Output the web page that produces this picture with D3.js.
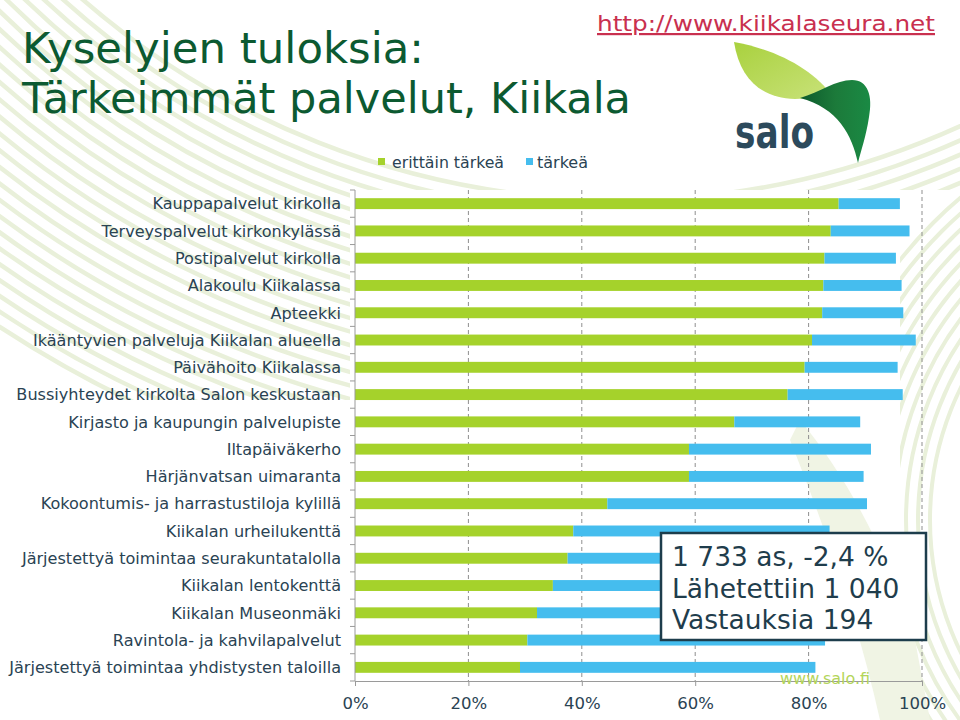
<!DOCTYPE html>
<html><head><meta charset="utf-8">
<script src="https://cdn.jsdelivr.net/npm/d3@7"></script>
<style>body{margin:0;background:#fff}svg{display:block}</style>
</head><body>
<svg id="c" width="960" height="720"></svg>
<script>
const categories = [
  "Kauppapalvelut kirkolla",
  "Terveyspalvelut kirkonkylässä",
  "Postipalvelut kirkolla",
  "Alakoulu Kiikalassa",
  "Apteekki",
  "Ikääntyvien palveluja Kiikalan alueella",
  "Päivähoito Kiikalassa",
  "Bussiyhteydet kirkolta Salon keskustaan",
  "Kirjasto ja kaupungin palvelupiste",
  "Iltapäiväkerho",
  "Härjänvatsan uimaranta",
  "Kokoontumis- ja harrastustiloja kylillä",
  "Kiikalan urheilukenttä",
  "Järjestettyä toimintaa seurakuntatalolla",
  "Kiikalan lentokenttä",
  "Kiikalan Museonmäki",
  "Ravintola- ja kahvilapalvelut",
  "Järjestettyä toimintaa yhdistysten taloilla"
];
// share of respondents, in %
const erittainTarkea = [85.3, 83.9, 82.8, 82.6, 82.4, 80.6, 79.3, 76.3, 66.9, 58.9, 58.9, 44.5, 38.5, 37.5, 34.9, 32.1, 30.4, 29.1];
const tarkea =         [10.8, 13.9, 12.6, 13.8, 14.3, 18.3, 16.4, 20.3, 22.2, 32.1, 30.8, 45.8, 45.2, 46.0, 47.6, 51.0, 52.5, 52.1];
const seriesNames = ["erittäin tärkeä", "tärkeä"];
const xTicks = [0, 20, 40, 60, 80, 100];
const infoLines = ["1 733 as, -2,4 %", "Lähetettiin 1 040", "Vastauksia 194"];

const svg = d3.select("#c");
const green = "#a5d22b", blue = "#45bdee";
const textCol = "#2a4353";
const defs = svg.append("defs");

// decorative background stripes
const deco = svg.append("g");
const clip = defs.append("clipPath").attr("id","cl");
clip.append("rect").attr("x",0).attr("y",0).attr("width",350).attr("height",400);
clip.append("rect").attr("x",0).attr("y",0).attr("width",960).attr("height",190);
const stripes = deco.append("g").attr("clip-path","url(#cl)");
for (let r = 820; r <= 1140; r += 13) {
  stripes.append("circle").attr("cx",620).attr("cy",-620).attr("r",r)
    .attr("fill","none").attr("stroke","#e9f0da").attr("stroke-width",4.5);
}
const clip2 = defs.append("clipPath").attr("id","cl2");
clip2.append("rect").attr("x",900).attr("y",190).attr("width",60).attr("height",530);
const rs = deco.append("g").attr("clip-path","url(#cl2)");
for (let r = 300; r <= 420; r += 12) {
  rs.append("circle").attr("cx",1230).attr("cy",520).attr("r",r)
    .attr("fill","none").attr("stroke","#e9f0da").attr("stroke-width",4);
}
deco.append("path")
  .attr("d","M800,420 C850,480 890,560 915,640 L930,720 L880,720 C860,630 830,540 790,440 Z")
  .attr("fill","#f0f4e4");

// scales
const x = d3.scaleLinear().domain([0, 100]).range([355, 922]);
const y = d3.scaleBand().domain(categories).range([190, 681]).paddingInner(0.6).paddingOuter(0.3);

// gridlines
svg.append("g").selectAll("line").data(xTicks.filter(d => d > 0)).join("line")
  .attr("x1", d => x(d)).attr("x2", d => x(d)).attr("y1", 190).attr("y2", 681)
  .attr("stroke", "#8f8f8f").attr("stroke-dasharray", "4,3").attr("stroke-width", 1);

// bars
const rows = categories.map((c, i) => ({c, a: erittainTarkea[i], b: tarkea[i]}));
svg.append("g").selectAll("rect").data(rows).join("rect")
  .attr("x", x(0)).attr("y", d => y(d.c)).attr("width", d => x(d.a) - x(0))
  .attr("height", y.bandwidth()).attr("fill", green);
svg.append("g").selectAll("rect").data(rows).join("rect")
  .attr("x", d => x(d.a)).attr("y", d => y(d.c)).attr("width", d => x(d.a + d.b) - x(d.a))
  .attr("height", y.bandwidth()).attr("fill", blue);

// y axis
const ya = svg.append("g");
ya.append("line").attr("x1", 355).attr("x2", 355).attr("y1", 190).attr("y2", 681).attr("stroke", "#9a9a9a");
const bounds = d3.range(categories.length + 1).map(i => 190 + i * y.step());
ya.selectAll("line.t").data(bounds).join("line").attr("class","t")
  .attr("x1", 350).attr("x2", 355).attr("y1", d => d).attr("y2", d => d).attr("stroke", "#9a9a9a");
ya.selectAll("text").data(categories).join("text")
  .attr("x", 341).attr("y", d => y(d) + y.bandwidth() / 2).attr("dy", "0.36em")
  .attr("text-anchor", "end").attr("font-family", "DejaVu Sans").attr("font-size", 16.1)
  .attr("fill", textCol).text(d => d);

// x axis
const xa = svg.append("g").attr("transform", "translate(0,681)")
  .call(d3.axisBottom(x).tickValues(xTicks).tickFormat(d => d + "%").tickSize(5).tickPadding(11));
xa.select(".domain").attr("stroke", "#9a9a9a");
xa.selectAll(".tick line").attr("stroke", "#9a9a9a");
xa.selectAll("text").attr("font-family", "DejaVu Sans").attr("font-size", 16.5).attr("fill", textCol);

// title
svg.append("text").attr("x", 22).attr("y", 63).attr("font-family", "DejaVu Sans Condensed")
  .attr("font-size", 42).attr("fill", "#0c5a31").attr("textLength", 402).attr("lengthAdjust","spacingAndGlyphs")
  .text("Kyselyjen tuloksia:");
svg.append("text").attr("x", 22).attr("y", 113).attr("font-family", "DejaVu Sans Condensed")
  .attr("font-size", 42).attr("fill", "#0c5a31").attr("textLength", 609).attr("lengthAdjust","spacingAndGlyphs")
  .text("Tärkeimmät palvelut, Kiikala");

// url
svg.append("text").attr("x", 597).attr("y", 31).attr("font-family", "DejaVu Sans Condensed")
  .attr("font-size", 22).attr("fill", "#c9304f").attr("text-decoration","underline")
  .attr("textLength", 338).attr("lengthAdjust","spacingAndGlyphs").text("http://www.kiikalaseura.net");

// legend
const lg = svg.append("g");
const lgX = [378, 526], lgT = [392, 537], lgW = [112, 51];
seriesNames.forEach((n, i) => {
  lg.append("rect").attr("x", lgX[i]).attr("y", 158).attr("width", 7).attr("height", 7).attr("fill", [green, blue][i]);
  lg.append("text").attr("x", lgT[i]).attr("y", 168).attr("font-family", "DejaVu Sans Condensed")
    .attr("font-size", 15).attr("fill", textCol).attr("textLength", lgW[i]).attr("lengthAdjust","spacingAndGlyphs").text(n);
});

// logo
const lgo = svg.append("g");
const g1 = defs.append("linearGradient").attr("id","lg1").attr("x1","0").attr("y1","0").attr("x2","1").attr("y2","1");
g1.append("stop").attr("offset","0").attr("stop-color","#a9d13e");
g1.append("stop").attr("offset","1").attr("stop-color","#c9e27a");
const g2 = defs.append("linearGradient").attr("id","lg2").attr("x1","0").attr("y1","0").attr("x2","1").attr("y2","0");
g2.append("stop").attr("offset","0").attr("stop-color","#0d5a2c");
g2.append("stop").attr("offset","0.5").attr("stop-color","#1c7a3a");
g2.append("stop").attr("offset","1").attr("stop-color","#1a8a44");
lgo.append("path").attr("d","M734,42 C778,50 814,70 833,97 L795,99 C762,98 740,80 734,42 Z").attr("fill","url(#lg1)");
lgo.append("path").attr("d","M800,98 C820,92 836,80 852,80 C868,80 873,96 869,117 C866,137 861,150 858,163 C852,135 838,108 800,98 Z").attr("fill","url(#lg2)");
svg.append("text").attr("x", 735).attr("y", 148).attr("font-family","DejaVu Sans Condensed").attr("font-weight","bold")
  .attr("font-size", 46).attr("fill","#2c4a5c").attr("textLength", 79).attr("lengthAdjust","spacingAndGlyphs").text("salo");

// info box
const bx = svg.append("g");
bx.append("rect").attr("x", 661).attr("y", 533).attr("width", 265).attr("height", 107)
  .attr("fill", "#fff").attr("stroke", "#1d3d4c").attr("stroke-width", 2.5);
bx.selectAll("text").data(infoLines).join("text")
  .attr("x", 672).attr("y", (d, i) => 566 + i * 31.5).attr("font-family", "DejaVu Sans")
  .attr("font-size", 26.5).attr("fill", "#1f3d4c").text(d => d);

// salo.fi
svg.append("text").attr("x", 780).attr("y", 684).attr("font-family","DejaVu Sans").attr("font-size", 16)
  .attr("fill","#b3d55a").text("www.salo.fi");
</script>
</body></html>
